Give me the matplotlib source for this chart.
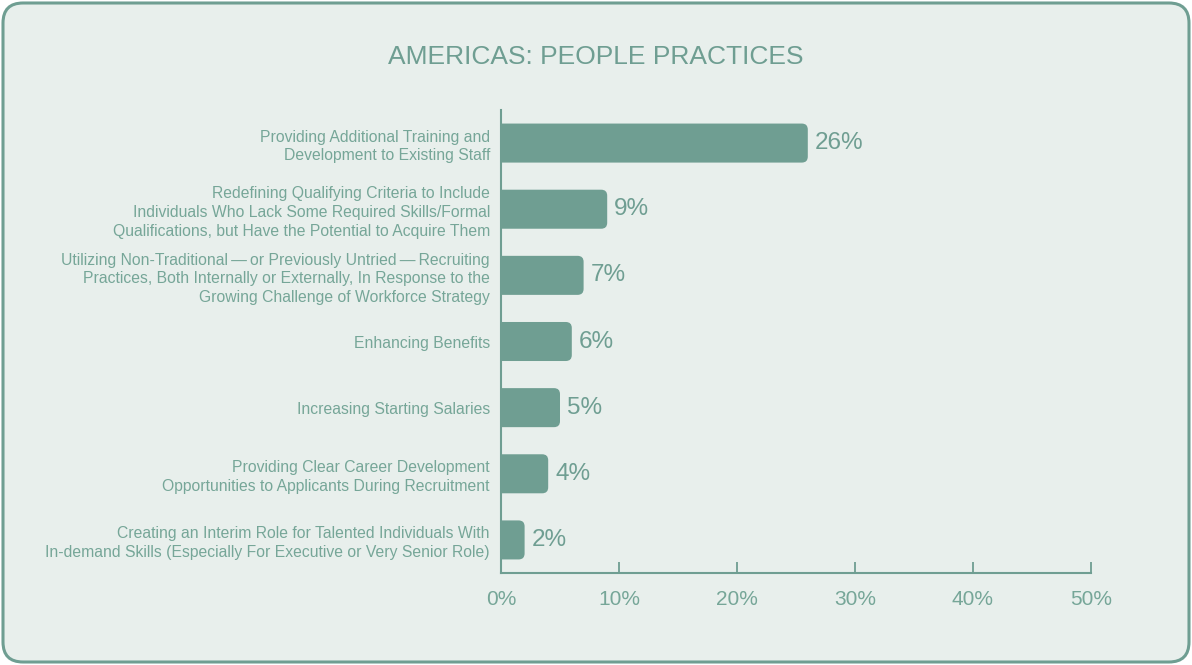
import matplotlib.pyplot as plt
from matplotlib.patches import FancyBboxPatch, PathPatch
from matplotlib.path import Path

plt.rcParams['font.family'] = ['Liberation Sans', 'DejaVu Sans']

## data
labels = [
    'Providing Additional Training and\nDevelopment to Existing Staff',
    'Redefining Qualifying Criteria to Include\nIndividuals Who Lack Some Required Skills/Formal\n'
    'Qualifications, but Have the Potential to Acquire Them',
    'Utilizing Non-Traditional\u2009\u2014\u2009or Previously Untried\u2009\u2014\u2009Recruiting\n'
    'Practices, Both Internally or Externally, In Response to the\nGrowing Challenge of Workforce Strategy',
    'Enhancing Benefits',
    'Increasing Starting Salaries',
    'Providing Clear Career Development\nOpportunities to Applicants During Recruitment',
    'Creating an Interim Role for Talented Individuals With\n'
    'In-demand Skills (Especially For Executive or Very Senior Role)',
]
values = [26, 9, 7, 6, 5, 4, 2]
xticks = [0, 10, 20, 30, 40, 50]
title = 'AMERICAS: PEOPLE PRACTICES'

# colours
bg = '#e8efec'
teal = '#6f9e92'
label_col = '#76a698'

W, H = 1192, 665
fig = plt.figure(figsize=(W / 100, H / 100), dpi=100)
fig.patch.set_facecolor('white')

# rounded frame (behind the axes)
frame = FancyBboxPatch((3 / W, 3 / H), 1 - 6 / W, 1 - 6 / H,
                       boxstyle='round,pad=0,rounding_size=%f' % (20 / W),
                       mutation_aspect=W / H, transform=fig.transFigure,
                       facecolor=bg, edgecolor=teal, linewidth=2.2, zorder=-5)
fig.patches.append(frame)

ax = fig.add_axes([501 / W, 1 - 573 / H, 590 / W, 463 / H])
ax.set_facecolor('none')
ax.set_zorder(2)


def bar_path(v, yc, h, rx, ry):
    # square left end, rounded right end
    y0, y1 = yc - h / 2, yc + h / 2
    verts = [(0, y0), (v - rx, y0), (v, y0), (v, y0 + ry),
             (v, y1 - ry), (v, y1), (v - rx, y1), (0, y1), (0, y0)]
    codes = [Path.MOVETO, Path.LINETO, Path.CURVE3, Path.CURVE3,
             Path.LINETO, Path.CURVE3, Path.CURVE3, Path.LINETO, Path.CLOSEPOLY]
    return Path(verts, codes)


bar_h = 0.59
px_x = 590 / 50      # pixels per unit on x
px_y = 463 / 7       # pixels per unit on y
for i, v in enumerate(values):
    ax.add_patch(PathPatch(bar_path(v, i, bar_h, 6 / px_x, 6 / px_y),
                           facecolor=teal, edgecolor='none', zorder=2))
    ax.text(v + 0.6, i, f'{v}%', va='center', ha='left',
            fontsize=17.5, color=teal)

ax.set_xlim(0, 50)
ax.set_ylim(len(values) - 0.5, -0.5)
ax.set_yticks(range(len(values)))
ax.set_yticklabels(labels, fontsize=11.3, color=label_col, linespacing=1.3)
ax.set_xticks(xticks)
ax.set_xticklabels([f'{t}%' for t in xticks], fontsize=15, color=label_col)

for s in ['top', 'right']:
    ax.spines[s].set_visible(False)
for s in ['left', 'bottom']:
    ax.spines[s].set_color(teal)
    ax.spines[s].set_linewidth(1.5)

ax.tick_params(axis='y', length=0, pad=8)
ax.tick_params(axis='x', direction='in', length=8, width=1.3, color=teal, pad=12)

fig.text(0.5, 1 - 57 / H, title, ha='center', va='center',
         fontsize=19, color=teal, zorder=3)

fig.savefig('out.png', dpi=100, facecolor=fig.get_facecolor())
